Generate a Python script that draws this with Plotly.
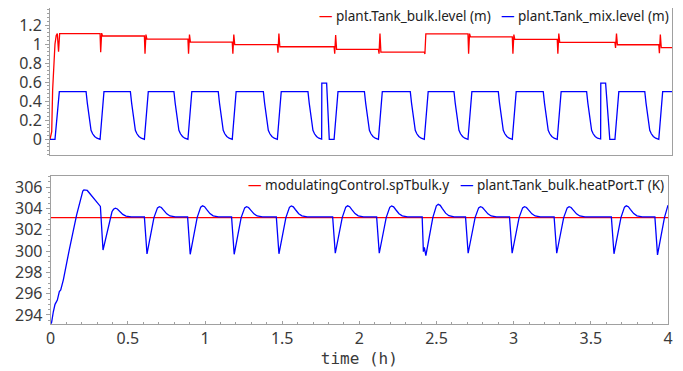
import plotly.graph_objects as go

# ---------------- data ----------------
# top panel: mix tank level (m)
mix_start_t = [0.0, 0.032, 0.060]
mix_start_v = [0.0, 0.0, 0.5]
mix_drain_start = [0.232, 0.517, 0.797, 1.082, 1.372, 1.659, 2.022, 2.317,
                   2.598, 2.883, 3.172, 3.451, 3.825]
refill_start = [0.322, 0.607, 0.887, 1.172, 1.462, 1.827, 2.112, 2.407,
                2.688, 2.973, 3.262, 3.633, 3.915]
refill_len = 0.025
mix_full = 0.5
drain_dt = [0.0, 0.008, 0.016, 0.024, 0.032, 0.042, 0.055, 0.070, 0.085]
drain_v = [0.5, 0.38, 0.27, 0.14, 0.095, 0.058, 0.030, 0.012, 0.003]
overfill_up = [1.747, 3.541]
overfill_down = [1.779, 3.573]
overfill_zero = [1.796, 3.600]
overfill_level = [0.59, 0.59]

# top panel: bulk tank level (m)
bulk_start_t = [0.0, 0.011, 0.017, 0.025, 0.032, 0.040, 0.047, 0.055, 0.062]
bulk_start_v = [0.0, 0.08, 0.52, 0.85, 1.0, 1.09, 1.11, 0.92, 1.11]
bulk_level = [1.11, 1.085, 1.053, 1.02, 0.995, 0.972, 0.944, 0.916, 1.108,
              1.075, 1.05, 1.018, 0.993, 0.962]
bulk_spike_low = [0.915, 0.90, 0.90, 0.90, 0.91, 0.90, 0.90, 0.895, 0.90,
                  0.90, 0.90, 0.96, 0.905]
bulk_spike_high = [1.115, 1.10, 1.10, 1.10, 1.11, 1.095, 1.11, 1.108, 1.11,
                   1.10, 1.11, 1.11, 1.10]

# bottom panel: temperatures (K)
setpoint = 303.15
temp_flat = 303.21
temp_start_t = [0.0, 0.006, 0.017, 0.028, 0.043, 0.056, 0.065, 0.082, 0.120,
                0.168, 0.208, 0.215, 0.237, 0.272, 0.322]
temp_start_v = [293.15, 293.3, 294.3, 295.0, 295.4, 296.2, 296.35, 297.3,
                300.1, 303.4, 305.65, 305.75, 305.7, 305.1, 304.2]
temp_min = [300.1, 299.73, 299.7, 299.7, 299.75, 299.8, 299.8, 299.57,
            299.8, 299.8, 299.8, 299.75, 299.65]
temp_peak = [304.03, 304.18, 304.26, 304.18, 304.24, 304.26, 304.24, 304.4,
             304.18, 304.18, 304.18, 304.26, 304.4]
temp_min_dt = 0.017
temp_cross_dt = 0.062
over_dt = [0.075, 0.085, 0.097, 0.110, 0.123, 0.145, 0.166, 0.200]
over_frac = [0.60, 0.88, 1.0, 0.92, 0.68, 0.30, 0.10, 0.0]
double_dip_t = [2.415, 2.421, 2.431]
double_dip_v = [299.95, 300.36, 299.57]
double_dip_cycle = 7
double_dip_lag = 0.007

t_end = 4.0

# ---------------- assemble the series ----------------
mix_t, mix_v = list(mix_start_t), list(mix_start_v)
for i, (d, r) in enumerate(zip(mix_drain_start, refill_start)):
    for dt, v in zip(drain_dt, drain_v):
        mix_t.append(d + dt)
        mix_v.append(v)
    for u, dn, z, lv in zip(overfill_up, overfill_down, overfill_zero, overfill_level):
        if d < u < r:
            mix_t += [u, u + 0.001, dn, z]
            mix_v += [mix_v[-1], lv, lv, 0.0]
    mix_t += [r, r + refill_len]
    mix_v += [0.0, mix_full]
mix_t.append(t_end)
mix_v.append(mix_full)

bulk_t, bulk_v = list(bulk_start_t), list(bulk_start_v)
for i, r in enumerate(refill_start):
    bulk_t += [r, r + 0.004, r + 0.010, r + 0.016]
    bulk_v += [bulk_level[i], bulk_spike_low[i], bulk_spike_high[i], bulk_level[i + 1]]
bulk_t.append(t_end)
bulk_v.append(bulk_level[-1])

temp_t, temp_v = list(temp_start_t), list(temp_start_v)
for i, ds in enumerate(refill_start):
    lag = 0.0
    if i > 0:
        temp_t.append(ds)
        temp_v.append(temp_flat)
    if i == double_dip_cycle:
        temp_t += double_dip_t
        temp_v += double_dip_v
        lag = double_dip_lag
    else:
        temp_t.append(ds + temp_min_dt)
        temp_v.append(temp_min[i])
    temp_t.append(ds + temp_cross_dt + lag)
    temp_v.append(setpoint)
    for dt, f in zip(over_dt, over_frac):
        t = ds + dt + lag
        if t > t_end:
            temp_t.append(t_end)
            temp_v.append(temp_flat + (temp_peak[i] - temp_flat) * 0.93)
            break
        temp_t.append(t)
        temp_v.append(temp_flat + (temp_peak[i] - temp_flat) * f)

sp_t = [0.0, t_end]
sp_v = [setpoint, setpoint]

# ---------------- figure ----------------
# the page body has an 8 px margin, so the figure is made 8 px smaller and
# page pixel positions are converted to figure coordinates
OFF = 8
W, H = 683 - OFF, 371 - OFF


def px(x):
    return (x - OFF) / W


def py(y):
    return 1 - (y - OFF) / H


RED, BLUE = "#ff0000", "#0000ff"
fig = go.Figure()
fig.add_trace(go.Scatter(x=bulk_t, y=bulk_v, mode="lines", line=dict(color=RED, width=1.3),
                         name="plant.Tank_bulk.level (m)", xaxis="x", yaxis="y", showlegend=False))
fig.add_trace(go.Scatter(x=mix_t, y=mix_v, mode="lines", line=dict(color=BLUE, width=1.3),
                         name="plant.Tank_mix.level (m)", xaxis="x", yaxis="y", showlegend=False))
fig.add_trace(go.Scatter(x=sp_t, y=sp_v, mode="lines", line=dict(color=RED, width=1.3),
                         name="modulatingControl.spTbulk.y", xaxis="x2", yaxis="y2", showlegend=False))
fig.add_trace(go.Scatter(x=temp_t, y=temp_v, mode="lines", line=dict(color=BLUE, width=1.3),
                         name="plant.Tank_bulk.heatPort.T (K)", xaxis="x2", yaxis="y2", showlegend=False))

tickfont = dict(family="Noto Sans", size=16, color="#3a3a3a")
frame = dict(showline=True, mirror=True, linecolor="#a0a0a0", linewidth=1,
             showgrid=False, zeroline=False, automargin=False)

fig.update_layout(
    width=W, height=H, margin=dict(l=0, r=0, t=0, b=0),
    paper_bgcolor="white", plot_bgcolor="white",
    xaxis=dict(domain=[px(50), px(672)], range=[0, 4], anchor="y",
               showticklabels=False, ticks="", **frame),
    yaxis=dict(domain=[py(155), py(8.3)], range=[-0.165, 1.376], anchor="x",
               tick0=0, dtick=0.2, ticks="outside", ticklen=4, tickcolor="#a0a0a0",
               minor=dict(dtick=0.04, ticks="outside", ticklen=2, tickcolor="#a0a0a0"),
               tickfont=tickfont, **frame),
    xaxis2=dict(domain=[px(50.7), px(668)], range=[0, 4], anchor="y2",
                tick0=0, dtick=0.5, ticks="inside", ticklen=3, tickcolor="#a0a0a0",
                minor=dict(dtick=0.1, ticks="inside", ticklen=2, tickcolor="#a0a0a0"),
                tickfont=tickfont,
                title=dict(text="time (h)", standoff=4,
                           font=dict(family="DejaVu Sans Mono", size=16, color="#3a3a3a")),
                **frame),
    yaxis2=dict(domain=[py(324), py(176)], range=[293.15, 307.06], anchor="x2",
                tick0=0, dtick=2, ticks="outside", ticklen=4, tickcolor="#a0a0a0",
                minor=dict(dtick=0.5, ticks="outside", ticklen=2, tickcolor="#a0a0a0"),
                tickfont=tickfont, **frame),
)

legfont = dict(family="Noto Sans", size=13.5, color="#222222")
legend_items = [
    ("plant.Tank_bulk.level (m)", RED, 492.3, 16),
    ("plant.Tank_mix.level (m)", BLUE, 670, 16),
    ("modulatingControl.spTbulk.y", RED, 450, 185),
    ("plant.Tank_bulk.heatPort.T (K)", BLUE, 665, 185),
]
for label, col, xr, yc in legend_items:
    fig.add_annotation(xref="paper", yref="paper", x=px(xr), y=py(yc),
                       xanchor="right", yanchor="middle", showarrow=False, borderpad=0,
                       text=f'<span style="color:{col}">\u2014</span> {label}', font=legfont)

fig.write_html("out.html")
